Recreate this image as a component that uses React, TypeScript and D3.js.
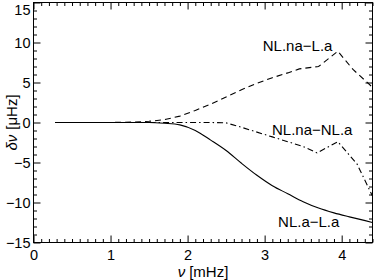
import React, { useEffect, useRef } from "react";
import {
  select,
  scaleLinear,
  axisBottom,
  axisLeft,
  axisTop,
  axisRight,
  line,
  range,
  curveMonotoneX
} from "d3";

// frequencies (mHz) and frequency differences (microHz)
const nuNlaLa = [0.28, 0.6, 1.0, 1.3, 1.5, 1.7, 1.9, 2.1, 2.3, 2.5, 2.7, 2.9, 3.1, 3.3, 3.5, 3.7, 3.9, 4.1, 4.4];
const dNlaLa = [0, 0, 0, 0, 0, -0.1, -0.3, -1.0, -2.2, -3.5, -5.1, -6.6, -7.9, -8.9, -9.9, -10.7, -11.3, -11.8, -12.5];

const nuNlnaLa = [0.28, 0.6, 1.0, 1.3, 1.5, 1.7, 1.9, 2.1, 2.3, 2.5, 2.7, 2.9, 3.1, 3.3, 3.45, 3.7, 3.95, 4.15, 4.4];
const dNlnaLa = [0, 0, 0, 0.05, 0.15, 0.35, 0.8, 1.5, 2.3, 3.2, 4.1, 4.9, 5.6, 6.2, 6.7, 7.0, 8.9, 6.6, 4.4];

const nuNlnaNla = [0.28, 0.6, 1.0, 1.5, 1.9, 2.1, 2.3, 2.5, 2.7, 2.9, 3.1, 3.3, 3.5, 3.68, 3.95, 4.2, 4.4];
const dNlnaNla = [0, 0, 0, 0, 0, 0, 0, -0.05, -0.6, -1.2, -1.8, -2.4, -3.0, -3.8, -2.4, -5.2, -9.2];

// curve annotations (anchored at their right end)
const labelText = ["NL.na\u2212L.a", "NL.na\u2212NL.a", "NL.a\u2212L.a"];
const labelNu = [3.88, 4.14, 3.97];
const labelDelta = [9.0, -1.6, -13.1];

const xTicks = [0, 1, 2, 3, 4];
const yTicks = [-15, -10, -5, 0, 5, 10, 15];

const W = 374;
const H = 280;
const FONT = "'Liberation Sans', Arial, Helvetica, sans-serif";

function FreqDiffChart() {
  const svgRef = useRef(null);

  useEffect(() => {
    const svg = select(svgRef.current);
    svg.selectAll("*").remove();

    const left = 33.5, right = 372.5, top = 2.5, bottom = 242.5;

    const x = scaleLinear().domain([0, 4.4]).range([left, right]);
    const y = scaleLinear().domain([-15, 15]).range([bottom, top]);

    // minor ticks on all four sides
    const xMinor = range(0, 4.41, 0.1).filter((v) => Math.abs(v - Math.round(v)) > 1e-6);
    const yMinor = range(-15, 15.1, 1).filter((v) => v % 5 !== 0);

    const drawAxis = (gen, tr, ticks, size, labels) => {
      const g = svg.append("g").attr("transform", tr);
      g.call(
        gen
          .tickValues(ticks)
          .tickSize(-size)
          .tickPadding(labels ? 7 : 0)
          .tickFormat(labels ? (d) => String(d).replace("-", "\u2212") : () => "")
      );
      g.select(".domain").remove();
      g.selectAll("line").attr("stroke", "#000").attr("stroke-width", 1);
      g.selectAll("text")
        .attr("fill", "#000")
        .style("font-family", FONT)
        .style("font-size", "14.5px");
      return g;
    };

    drawAxis(axisBottom(x), `translate(0,${bottom})`, xTicks, 7, true);
    drawAxis(axisBottom(x), `translate(0,${bottom})`, xMinor, 3.5, false);
    drawAxis(axisTop(x), `translate(0,${top})`, xTicks, 7, false);
    drawAxis(axisTop(x), `translate(0,${top})`, xMinor, 3.5, false);
    const yl = drawAxis(axisLeft(y), `translate(${left},0)`, yTicks, 7, true);
    yl.selectAll("text").attr("x", -3);
    // the top label sits against the window edge; nudge it down so it stays visible
    yl.selectAll("text").filter((d) => d === 15).attr("dy", "0.8em");
    drawAxis(axisLeft(y), `translate(${left},0)`, yMinor, 3.5, false);
    drawAxis(axisRight(y), `translate(${right},0)`, yTicks, 7, false);
    drawAxis(axisRight(y), `translate(${right},0)`, yMinor, 3.5, false);

    // frame
    svg
      .append("rect")
      .attr("x", left)
      .attr("y", top)
      .attr("width", right - left)
      .attr("height", bottom - top)
      .attr("fill", "none")
      .attr("stroke", "#000")
      .attr("stroke-width", 1);

    // curves
    const series = [
      { nu: nuNlaLa, d: dNlaLa, dash: null, smooth: true },
      { nu: nuNlnaLa, d: dNlnaLa, dash: "6,4", smooth: false },
      { nu: nuNlnaNla, d: dNlnaNla, dash: "6,3,1.5,3", smooth: false }
    ];
    series.forEach((s) => {
      const gen = line()
        .x((i) => x(s.nu[i]))
        .y((i) => y(s.d[i]));
      if (s.smooth) gen.curve(curveMonotoneX);
      svg
        .append("path")
        .attr("d", gen(s.nu.map((_, i) => i)))
        .attr("fill", "none")
        .attr("stroke", "#000")
        .attr("stroke-width", 1.1)
        .attr("stroke-dasharray", s.dash);
    });

    // annotations
    svg
      .selectAll(".lab")
      .data(labelText)
      .join("text")
      .attr("class", "lab")
      .attr("x", (_, i) => x(labelNu[i]))
      .attr("y", (_, i) => y(labelDelta[i]))
      .attr("text-anchor", "end")
      .style("font-family", FONT)
      .style("font-size", "15px")
      .text((d) => d);

    // axis titles
    const xt = svg
      .append("text")
      .attr("x", (left + right) / 2)
      .attr("y", 277)
      .attr("text-anchor", "middle")
      .style("font-family", FONT)
      .style("font-size", "15px");
    xt.append("tspan").style("font-style", "italic").text("\u03bd");
    xt.append("tspan").attr("dx", 4).text("[mHz]");

    const yt = svg
      .append("text")
      .attr("transform", `translate(17,${(top + bottom) / 2}) rotate(-90)`)
      .attr("text-anchor", "middle")
      .style("font-family", FONT)
      .style("font-size", "15px");
    yt.append("tspan").style("font-style", "italic").text("\u03b4\u03bd");
    yt.append("tspan").attr("dx", 5).text("[\u03bcHz]");
  }, []);

  return <svg ref={svgRef} width={W} height={H} style={{ display: "block" }} />;
}

export default function App() {
  return (
    <div style={{ position: "absolute", left: 0, top: 0, width: W, height: H, background: "#fff" }}>
      <FreqDiffChart />
    </div>
  );
}
